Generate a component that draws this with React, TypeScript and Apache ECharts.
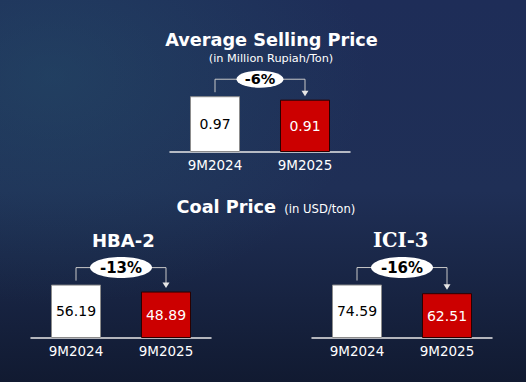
import React, { useEffect, useRef } from "react";
import * as echarts from "echarts";

const categories = ["9M2024", "9M2025"];
const aspValues = [0.97, 0.91];
const hbaValues = [56.19, 48.89];
const iciValues = [74.59, 62.51];
const changeLabels = ["-6%", "-13%", "-16%"];
const axisMax = [1.2, 70, 90];

const SANS = "'DejaVu Sans', Verdana, sans-serif";
const SERIF = "'DejaVu Serif', serif";

export default function App() {
  const ref = useRef<HTMLDivElement>(null);
  useEffect(() => {
    document.body.style.margin = "0";
    const chart = echarts.init(ref.current!, null, { renderer: "svg" });
    const grids = [
      { left: 170, top: 152 - 69, width: 180, height: 69 },
      { left: 31, top: 338 - 66.5, width: 180, height: 66.5 },
      { left: 312, top: 338 - 64.5, width: 180, height: 64.5 },
    ];
    const datasets = [aspValues, hbaValues, iciValues];
    const option: any = {
      animation: false,
      backgroundColor: new echarts.graphic.LinearGradient(0, 0, 0, 1, [
        { offset: 0, color: "#1e2d58" },
        { offset: 0.5, color: "#1f2f56" },
        { offset: 1, color: "#111a31" },
      ]),
      grid: grids,
      xAxis: grids.map((g, i) => ({
        type: "category",
        gridIndex: i,
        data: categories,
        axisLine: { lineStyle: { color: "#e8e8e8", width: 1.5 } },
        axisTick: { show: false },
        axisLabel: {
          color: "#ffffff",
          fontFamily: SANS,
          fontSize: 13.5,
          margin: 6,
        },
      })),
      yAxis: grids.map((g, i) => ({
        type: "value",
        gridIndex: i,
        min: 0,
        max: axisMax[i],
        show: false,
      })),
      series: datasets.map((vals, i) => ({
        type: "bar",
        xAxisIndex: i,
        yAxisIndex: i,
        barWidth: 50,
        data: vals.map((v, j) => ({
          value: v,
          itemStyle:
            j === 0
              ? { color: "#ffffff", borderColor: "#8c8c8c", borderWidth: 1 }
              : { color: "#cc0000", borderColor: "#2a0000", borderWidth: 1 },
          label: { color: j === 0 ? "#000000" : "#ffffff" },
        })),
        label: {
          show: true,
          position: "inside",
          fontFamily: SANS,
          fontSize: 14,
          formatter: (p: any) => Number(p.value).toFixed(2),
        },
      })),
    };
    chart.setOption(option);

    const elements: any[] = [
      {
        type: "rect",
        z: -10,
        shape: { x: 0, y: 0, width: 526, height: 382 },
        style: {
          fill: new echarts.graphic.RadialGradient(0.1, 0.2, 0.6, [
            { offset: 0, color: "rgba(40,95,115,0.35)" },
            { offset: 1, color: "rgba(40,95,115,0)" },
          ]),
        },
        silent: true,
      },
      {
        type: "text",
        x: 271.5,
        y: 40,
        style: {
          text: "Average Selling Price",
          fill: "#ffffff",
          fontFamily: SANS,
          fontWeight: "bold",
          fontSize: 17.7,
          align: "center",
          verticalAlign: "middle",
        },
      },
      {
        type: "text",
        x: 271,
        y: 58.5,
        style: {
          text: "(in Million Rupiah/Ton)",
          fill: "#ffffff",
          fontFamily: SANS,
          fontSize: 11.3,
          align: "center",
          verticalAlign: "middle",
        },
      },
      {
        type: "text",
        x: 176.5,
        y: 207,
        style: {
          text: "Coal Price",
          fill: "#ffffff",
          fontFamily: SANS,
          fontWeight: "bold",
          fontSize: 17.7,
          align: "left",
          verticalAlign: "middle",
        },
      },
      {
        type: "text",
        x: 284.3,
        y: 208.5,
        style: {
          text: "(in USD/ton)",
          fill: "#ffffff",
          fontFamily: SANS,
          fontSize: 11.6,
          align: "left",
          verticalAlign: "middle",
        },
      },
      {
        type: "text",
        x: 123.3,
        y: 240,
        style: {
          text: "HBA-2",
          fill: "#ffffff",
          fontFamily: SANS,
          fontWeight: "bold",
          fontSize: 18,
          align: "center",
          verticalAlign: "middle",
        },
      },
      {
        type: "text",
        x: 400.7,
        y: 240,
        style: {
          text: "ICI-3",
          fill: "#ffffff",
          fontFamily: SERIF,
          fontWeight: "bold",
          fontSize: 19.5,
          align: "center",
          verticalAlign: "middle",
        },
      },
    ];

    datasets.forEach((vals, i) => {
      const a = chart.convertToPixel({ gridIndex: i }, [categories[0], vals[0]]) as number[];
      const b = chart.convertToPixel({ gridIndex: i }, [categories[1], vals[1]]) as number[];
      const yb = a[1] - 17;
      const cx = (a[0] + b[0]) / 2;
      elements.push({
        type: "polyline",
        shape: {
          points: [
            [a[0], a[1] - 4],
            [a[0], yb],
            [b[0], yb],
            [b[0], b[1] - 8],
          ],
        },
        style: { stroke: "#c8c8c8", lineWidth: 1, fill: null },
      });
      elements.push({
        type: "polygon",
        shape: {
          points: [
            [b[0] - 3.5, b[1] - 9],
            [b[0] + 3.5, b[1] - 9],
            [b[0], b[1] - 3.5],
          ],
        },
        style: { fill: "#e6e6e6" },
      });
      const rx = i === 0 ? 23.5 : 31;
      const ry = i === 0 ? 8.5 : 10.5;
      elements.push({
        type: "ellipse",
        shape: { cx, cy: yb, rx, ry },
        style: { fill: "#ffffff" },
      });
      elements.push({
        type: "text",
        x: cx,
        y: yb,
        style: {
          text: changeLabels[i],
          fill: "#000000",
          fontFamily: SANS,
          fontWeight: "bold",
          fontSize: i === 0 ? 14.5 : 15,
          align: "center",
          verticalAlign: "middle",
        },
      });
    });
    chart.setOption({ graphic: elements });

    return () => chart.dispose();
  }, []);
  return <div ref={ref} style={{ width: 526, height: 382 }} />;
}
